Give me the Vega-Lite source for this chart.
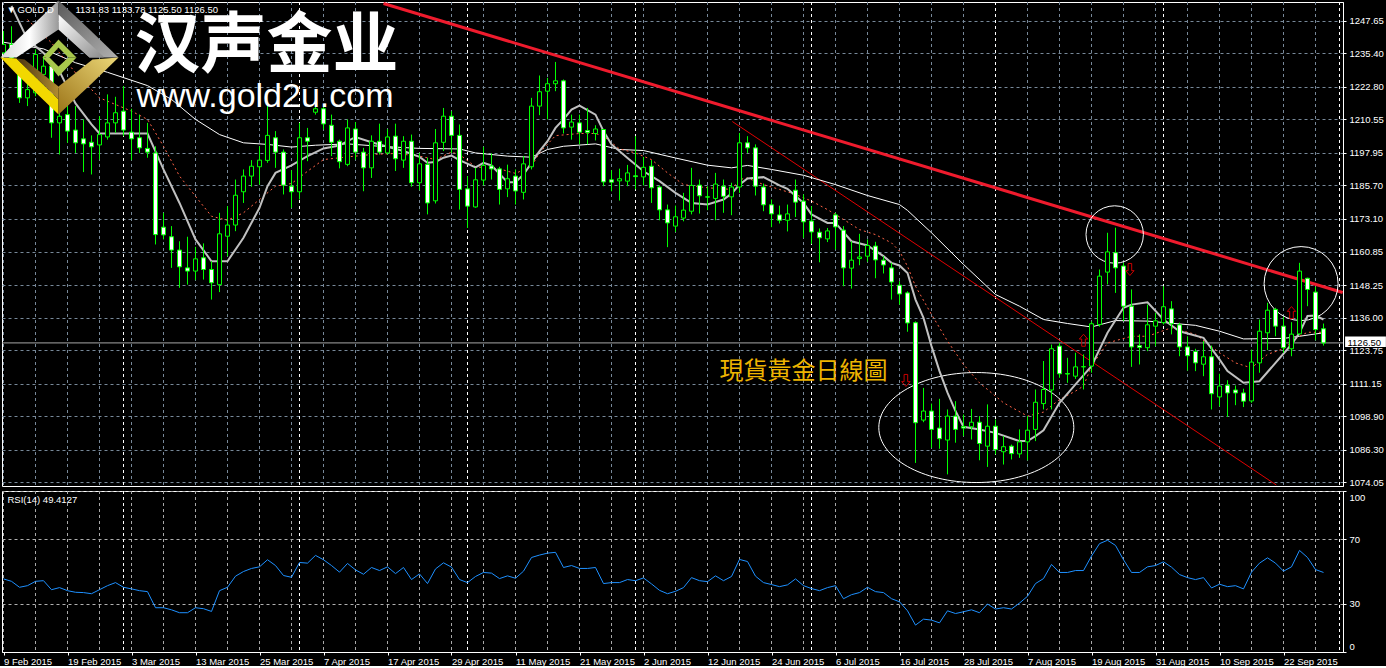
{"$schema":"https://vega.github.io/schema/vega-lite/v6.json","background":"#000000","padding":{"left":0,"top":0,"right":0,"bottom":0},"config":{"scale":{"continuousPadding":0},"view":{"stroke":"#ffffff","strokeWidth":1},"font":"Liberation Sans","axis":{"labelFont":"Liberation Sans","labelFontSize":9.5,"labelColor":"#ffffff","title":null}},"spacing":2,
"datasets":{"bars":[
{"bar":0,"o":1235.5,"h":1243.7,"l":1234.9,"c":1238.7,"rsi":45.4},
{"bar":1,"o":1238.7,"h":1245.5,"l":1231.8,"c":1233.6,"rsi":43.9},
{"bar":2,"o":1227.4,"h":1230.5,"l":1216.7,"c":1218.6,"rsi":40.2},
{"bar":3,"o":1218.6,"h":1225.5,"l":1215.5,"c":1221.7,"rsi":41.2},
{"bar":4,"o":1220.5,"h":1236.8,"l":1219.2,"c":1234.9,"rsi":43.9},
{"bar":5,"o":1227.4,"h":1234.3,"l":1223.0,"c":1230.5,"rsi":44.3},
{"bar":6,"o":1230.5,"h":1231.8,"l":1203.6,"c":1209.2,"rsi":38.7},
{"bar":7,"o":1209.2,"h":1215.5,"l":1197.3,"c":1211.7,"rsi":40.0},
{"bar":8,"o":1212.3,"h":1215.5,"l":1201.7,"c":1206.1,"rsi":38.1},
{"bar":9,"o":1206.5,"h":1215.5,"l":1197.9,"c":1201.7,"rsi":37.1},
{"bar":10,"o":1203.2,"h":1210.5,"l":1190.7,"c":1201.3,"rsi":36.9},
{"bar":11,"o":1201.9,"h":1204.5,"l":1189.8,"c":1200.2,"rsi":36.2},
{"bar":12,"o":1200.9,"h":1211.7,"l":1195.4,"c":1204.8,"rsi":38.7},
{"bar":13,"o":1203.9,"h":1219.9,"l":1202.9,"c":1209.2,"rsi":41.2},
{"bar":14,"o":1209.2,"h":1219.0,"l":1205.5,"c":1213.0,"rsi":43.1},
{"bar":15,"o":1213.6,"h":1223.0,"l":1204.2,"c":1206.5,"rsi":40.2},
{"bar":16,"o":1205.7,"h":1214.5,"l":1195.2,"c":1203.2,"rsi":39.2},
{"bar":17,"o":1203.6,"h":1212.3,"l":1197.9,"c":1199.8,"rsi":38.1},
{"bar":18,"o":1199.6,"h":1209.2,"l":1196.1,"c":1198.2,"rsi":37.5},
{"bar":19,"o":1197.9,"h":1200.4,"l":1163.5,"c":1167.2,"rsi":27.5},
{"bar":20,"o":1170.0,"h":1175.4,"l":1165.4,"c":1167.1,"rsi":27.5},
{"bar":21,"o":1166.4,"h":1170.4,"l":1154.7,"c":1161.4,"rsi":26.2},
{"bar":22,"o":1161.4,"h":1164.7,"l":1147.2,"c":1155.1,"rsi":24.4},
{"bar":23,"o":1154.7,"h":1166.4,"l":1148.4,"c":1153.5,"rsi":24.4},
{"bar":24,"o":1153.5,"h":1162.6,"l":1150.1,"c":1158.1,"rsi":27.5},
{"bar":25,"o":1158.5,"h":1163.9,"l":1150.3,"c":1154.1,"rsi":26.9},
{"bar":26,"o":1154.1,"h":1157.2,"l":1142.8,"c":1149.1,"rsi":25.2},
{"bar":27,"o":1148.4,"h":1175.4,"l":1145.6,"c":1167.5,"rsi":38.1},
{"bar":28,"o":1166.6,"h":1177.9,"l":1159.1,"c":1170.8,"rsi":40.2},
{"bar":29,"o":1170.8,"h":1187.9,"l":1168.5,"c":1182.0,"rsi":47.1},
{"bar":30,"o":1183.3,"h":1191.7,"l":1179.1,"c":1189.2,"rsi":50.0},
{"bar":31,"o":1189.2,"h":1195.2,"l":1185.2,"c":1192.9,"rsi":51.9},
{"bar":32,"o":1192.7,"h":1200.4,"l":1186.0,"c":1195.2,"rsi":52.9},
{"bar":33,"o":1195.1,"h":1216.7,"l":1194.2,"c":1204.5,"rsi":57.3},
{"bar":34,"o":1203.6,"h":1206.1,"l":1192.3,"c":1198.2,"rsi":53.7},
{"bar":35,"o":1198.2,"h":1199.2,"l":1182.3,"c":1185.8,"rsi":47.5},
{"bar":36,"o":1185.4,"h":1191.4,"l":1177.3,"c":1183.3,"rsi":46.4},
{"bar":37,"o":1183.3,"h":1209.2,"l":1180.4,"c":1203.6,"rsi":55.6},
{"bar":38,"o":1203.6,"h":1207.3,"l":1194.8,"c":1202.3,"rsi":55.2},
{"bar":39,"o":1213.2,"h":1216.7,"l":1212.3,"c":1214.5,"rsi":60.0},
{"bar":40,"o":1214.5,"h":1215.5,"l":1206.7,"c":1208.8,"rsi":57.3},
{"bar":41,"o":1208.3,"h":1212.3,"l":1196.7,"c":1201.9,"rsi":53.7},
{"bar":42,"o":1202.3,"h":1202.9,"l":1192.1,"c":1194.6,"rsi":49.6},
{"bar":43,"o":1193.6,"h":1210.5,"l":1192.9,"c":1207.3,"rsi":55.0},
{"bar":44,"o":1206.9,"h":1209.5,"l":1195.4,"c":1198.2,"rsi":51.0},
{"bar":45,"o":1198.2,"h":1199.8,"l":1183.5,"c":1192.3,"rsi":48.3},
{"bar":46,"o":1192.3,"h":1204.5,"l":1188.5,"c":1202.3,"rsi":52.5},
{"bar":47,"o":1202.3,"h":1208.9,"l":1197.3,"c":1198.2,"rsi":50.6},
{"bar":48,"o":1197.9,"h":1206.9,"l":1197.3,"c":1203.9,"rsi":52.9},
{"bar":49,"o":1204.2,"h":1208.9,"l":1191.1,"c":1195.7,"rsi":48.7},
{"bar":50,"o":1195.2,"h":1204.2,"l":1192.3,"c":1202.3,"rsi":52.5},
{"bar":51,"o":1202.3,"h":1204.8,"l":1185.2,"c":1186.7,"rsi":45.0},
{"bar":52,"o":1186.7,"h":1197.9,"l":1183.9,"c":1193.8,"rsi":48.5},
{"bar":53,"o":1193.6,"h":1196.1,"l":1174.8,"c":1179.1,"rsi":42.5},
{"bar":54,"o":1179.9,"h":1206.9,"l":1178.9,"c":1201.7,"rsi":51.6},
{"bar":55,"o":1201.9,"h":1214.8,"l":1198.6,"c":1211.7,"rsi":55.4},
{"bar":56,"o":1211.7,"h":1213.6,"l":1197.9,"c":1204.5,"rsi":52.7},
{"bar":57,"o":1204.5,"h":1208.6,"l":1176.6,"c":1184.2,"rsi":45.0},
{"bar":58,"o":1184.4,"h":1189.2,"l":1169.7,"c":1177.9,"rsi":43.1},
{"bar":59,"o":1177.6,"h":1192.3,"l":1177.3,"c":1187.8,"rsi":46.9},
{"bar":60,"o":1187.7,"h":1200.2,"l":1185.7,"c":1193.2,"rsi":49.4},
{"bar":61,"o":1193.0,"h":1197.7,"l":1187.9,"c":1191.9,"rsi":49.0},
{"bar":62,"o":1191.9,"h":1192.7,"l":1178.5,"c":1184.2,"rsi":45.6},
{"bar":63,"o":1184.4,"h":1193.5,"l":1181.3,"c":1188.2,"rsi":47.3},
{"bar":64,"o":1189.2,"h":1191.7,"l":1178.5,"c":1183.6,"rsi":45.8},
{"bar":65,"o":1183.1,"h":1196.7,"l":1180.4,"c":1193.8,"rsi":50.2},
{"bar":66,"o":1192.7,"h":1218.6,"l":1191.7,"c":1215.5,"rsi":58.7},
{"bar":67,"o":1215.5,"h":1227.0,"l":1212.1,"c":1220.9,"rsi":60.2},
{"bar":68,"o":1221.1,"h":1226.1,"l":1210.5,"c":1223.9,"rsi":61.4},
{"bar":69,"o":1223.9,"h":1232.1,"l":1221.1,"c":1225.0,"rsi":61.9},
{"bar":70,"o":1225.0,"h":1225.5,"l":1205.2,"c":1207.3,"rsi":52.5},
{"bar":71,"o":1207.6,"h":1212.3,"l":1202.9,"c":1209.5,"rsi":53.7},
{"bar":72,"o":1209.2,"h":1212.3,"l":1201.1,"c":1205.7,"rsi":51.9},
{"bar":73,"o":1206.3,"h":1214.8,"l":1201.1,"c":1205.6,"rsi":51.9},
{"bar":74,"o":1205.2,"h":1208.3,"l":1202.6,"c":1206.9,"rsi":52.5},
{"bar":75,"o":1206.7,"h":1206.9,"l":1185.4,"c":1187.0,"rsi":42.5},
{"bar":76,"o":1187.8,"h":1191.4,"l":1183.5,"c":1186.9,"rsi":43.1},
{"bar":77,"o":1187.4,"h":1192.0,"l":1180.0,"c":1188.2,"rsi":43.1},
{"bar":78,"o":1187.3,"h":1193.4,"l":1185.4,"c":1190.4,"rsi":45.0},
{"bar":79,"o":1189.3,"h":1204.2,"l":1184.2,"c":1189.0,"rsi":44.3},
{"bar":80,"o":1188.9,"h":1196.4,"l":1185.7,"c":1192.5,"rsi":46.0},
{"bar":81,"o":1192.9,"h":1195.2,"l":1179.1,"c":1184.8,"rsi":42.3},
{"bar":82,"o":1185.1,"h":1185.7,"l":1172.6,"c":1176.5,"rsi":38.3},
{"bar":83,"o":1176.5,"h":1178.5,"l":1162.5,"c":1171.6,"rsi":36.2},
{"bar":84,"o":1170.4,"h":1178.1,"l":1168.2,"c":1173.9,"rsi":37.7},
{"bar":85,"o":1173.4,"h":1182.9,"l":1172.2,"c":1176.4,"rsi":40.0},
{"bar":86,"o":1176.0,"h":1192.3,"l":1174.8,"c":1185.7,"rsi":46.2},
{"bar":87,"o":1185.8,"h":1187.9,"l":1175.1,"c":1181.8,"rsi":44.3},
{"bar":88,"o":1181.4,"h":1185.4,"l":1176.4,"c":1181.3,"rsi":43.7},
{"bar":89,"o":1180.8,"h":1190.4,"l":1172.6,"c":1186.2,"rsi":47.3},
{"bar":90,"o":1185.4,"h":1187.9,"l":1175.4,"c":1181.6,"rsi":44.3},
{"bar":91,"o":1181.4,"h":1186.7,"l":1174.5,"c":1185.1,"rsi":46.9},
{"bar":92,"o":1185.1,"h":1205.4,"l":1182.9,"c":1201.7,"rsi":57.5},
{"bar":93,"o":1201.7,"h":1204.2,"l":1197.9,"c":1199.8,"rsi":56.2},
{"bar":94,"o":1199.8,"h":1201.1,"l":1181.9,"c":1185.4,"rsi":47.1},
{"bar":95,"o":1185.1,"h":1186.4,"l":1176.0,"c":1178.4,"rsi":43.1},
{"bar":96,"o":1178.4,"h":1180.4,"l":1170.0,"c":1175.0,"rsi":41.9},
{"bar":97,"o":1174.6,"h":1178.1,"l":1171.4,"c":1172.6,"rsi":40.6},
{"bar":98,"o":1172.6,"h":1178.5,"l":1168.4,"c":1175.0,"rsi":41.7},
{"bar":99,"o":1183.9,"h":1187.9,"l":1173.8,"c":1179.4,"rsi":45.4},
{"bar":100,"o":1179.8,"h":1182.3,"l":1166.0,"c":1172.0,"rsi":41.2},
{"bar":101,"o":1172.3,"h":1177.9,"l":1163.7,"c":1168.2,"rsi":39.4},
{"bar":102,"o":1168.1,"h":1169.5,"l":1156.8,"c":1166.0,"rsi":38.1},
{"bar":103,"o":1165.6,"h":1169.7,"l":1164.4,"c":1168.6,"rsi":40.0},
{"bar":104,"o":1174.6,"h":1175.4,"l":1161.6,"c":1170.1,"rsi":41.2},
{"bar":105,"o":1168.9,"h":1170.4,"l":1147.8,"c":1154.7,"rsi":33.1},
{"bar":106,"o":1154.6,"h":1164.7,"l":1146.9,"c":1157.6,"rsi":35.6},
{"bar":107,"o":1158.2,"h":1167.5,"l":1155.7,"c":1158.8,"rsi":36.9},
{"bar":108,"o":1159.1,"h":1165.4,"l":1157.0,"c":1163.1,"rsi":40.2},
{"bar":109,"o":1162.9,"h":1164.5,"l":1150.8,"c":1157.7,"rsi":37.5},
{"bar":110,"o":1157.6,"h":1159.1,"l":1152.6,"c":1155.8,"rsi":36.9},
{"bar":111,"o":1154.7,"h":1156.6,"l":1142.8,"c":1149.4,"rsi":33.1},
{"bar":112,"o":1148.2,"h":1149.7,"l":1140.9,"c":1144.9,"rsi":31.2},
{"bar":113,"o":1145.3,"h":1145.9,"l":1130.7,"c":1134.0,"rsi":25.6},
{"bar":114,"o":1134.1,"h":1134.6,"l":1081.4,"c":1096.5,"rsi":16.7},
{"bar":115,"o":1097.5,"h":1109.6,"l":1096.7,"c":1100.9,"rsi":20.4},
{"bar":116,"o":1100.9,"h":1103.7,"l":1087.1,"c":1094.0,"rsi":19.8},
{"bar":117,"o":1094.5,"h":1105.5,"l":1086.7,"c":1090.5,"rsi":18.1},
{"bar":118,"o":1090.0,"h":1101.5,"l":1077.1,"c":1099.0,"rsi":25.6},
{"bar":119,"o":1099.0,"h":1104.6,"l":1089.0,"c":1094.0,"rsi":23.9},
{"bar":120,"o":1095.1,"h":1099.6,"l":1091.5,"c":1094.5,"rsi":25.0},
{"bar":121,"o":1095.0,"h":1101.7,"l":1090.2,"c":1096.7,"rsi":26.2},
{"bar":122,"o":1096.7,"h":1099.0,"l":1082.4,"c":1088.7,"rsi":24.4},
{"bar":123,"o":1087.7,"h":1103.4,"l":1079.9,"c":1095.2,"rsi":29.8},
{"bar":124,"o":1095.2,"h":1097.7,"l":1084.6,"c":1086.4,"rsi":26.7},
{"bar":125,"o":1085.6,"h":1091.5,"l":1080.8,"c":1087.5,"rsi":27.5},
{"bar":126,"o":1087.7,"h":1088.3,"l":1082.7,"c":1084.9,"rsi":26.7},
{"bar":127,"o":1084.8,"h":1094.0,"l":1083.3,"c":1089.3,"rsi":30.4},
{"bar":128,"o":1089.3,"h":1099.0,"l":1082.4,"c":1093.7,"rsi":34.6},
{"bar":129,"o":1094.0,"h":1109.0,"l":1089.6,"c":1104.2,"rsi":42.5},
{"bar":130,"o":1103.7,"h":1119.7,"l":1101.5,"c":1109.0,"rsi":45.6},
{"bar":131,"o":1108.8,"h":1125.9,"l":1101.5,"c":1124.3,"rsi":54.4},
{"bar":132,"o":1125.3,"h":1126.5,"l":1113.4,"c":1114.9,"rsi":49.4},
{"bar":133,"o":1115.0,"h":1120.9,"l":1111.5,"c":1114.8,"rsi":49.4},
{"bar":134,"o":1114.0,"h":1122.8,"l":1113.0,"c":1117.5,"rsi":50.6},
{"bar":135,"o":1117.5,"h":1122.2,"l":1109.0,"c":1117.6,"rsi":50.6},
{"bar":136,"o":1117.8,"h":1134.6,"l":1115.3,"c":1133.7,"rsi":59.6},
{"bar":137,"o":1133.4,"h":1154.1,"l":1132.6,"c":1151.6,"rsi":67.3},
{"bar":138,"o":1153.1,"h":1167.9,"l":1148.5,"c":1160.7,"rsi":69.4},
{"bar":139,"o":1160.4,"h":1169.8,"l":1145.3,"c":1154.7,"rsi":66.2},
{"bar":140,"o":1155.4,"h":1156.6,"l":1134.7,"c":1140.3,"rsi":57.3},
{"bar":141,"o":1140.3,"h":1146.6,"l":1117.5,"c":1125.0,"rsi":49.4},
{"bar":142,"o":1125.5,"h":1129.7,"l":1118.4,"c":1124.8,"rsi":49.4},
{"bar":143,"o":1124.7,"h":1140.9,"l":1123.4,"c":1133.3,"rsi":52.9},
{"bar":144,"o":1132.8,"h":1137.8,"l":1125.3,"c":1134.8,"rsi":53.7},
{"bar":145,"o":1134.1,"h":1147.8,"l":1133.4,"c":1140.1,"rsi":56.0},
{"bar":146,"o":1139.3,"h":1142.2,"l":1129.7,"c":1133.7,"rsi":52.7},
{"bar":147,"o":1133.3,"h":1134.1,"l":1121.5,"c":1125.0,"rsi":48.1},
{"bar":148,"o":1125.0,"h":1129.0,"l":1116.1,"c":1121.7,"rsi":46.2},
{"bar":149,"o":1123.3,"h":1124.3,"l":1115.9,"c":1119.0,"rsi":45.0},
{"bar":150,"o":1118.5,"h":1127.2,"l":1114.0,"c":1121.3,"rsi":46.2},
{"bar":151,"o":1121.3,"h":1125.5,"l":1101.5,"c":1107.4,"rsi":39.8},
{"bar":152,"o":1106.2,"h":1114.9,"l":1102.7,"c":1110.3,"rsi":42.1},
{"bar":153,"o":1110.6,"h":1112.5,"l":1098.7,"c":1107.7,"rsi":40.6},
{"bar":154,"o":1108.8,"h":1110.5,"l":1103.1,"c":1107.7,"rsi":41.2},
{"bar":155,"o":1107.7,"h":1109.3,"l":1102.4,"c":1104.6,"rsi":39.2},
{"bar":156,"o":1104.7,"h":1124.0,"l":1104.0,"c":1119.3,"rsi":49.6},
{"bar":157,"o":1119.0,"h":1135.3,"l":1115.3,"c":1130.9,"rsi":55.2},
{"bar":158,"o":1130.3,"h":1141.6,"l":1123.8,"c":1138.8,"rsi":58.5},
{"bar":159,"o":1139.1,"h":1139.7,"l":1129.0,"c":1132.8,"rsi":55.2},
{"bar":160,"o":1132.8,"h":1136.3,"l":1122.8,"c":1124.7,"rsi":50.2},
{"bar":161,"o":1124.3,"h":1134.3,"l":1121.5,"c":1129.8,"rsi":52.9},
{"bar":162,"o":1129.9,"h":1156.6,"l":1129.4,"c":1153.5,"rsi":63.1},
{"bar":163,"o":1150.8,"h":1151.0,"l":1140.3,"c":1146.6,"rsi":58.7},
{"bar":164,"o":1145.6,"h":1147.6,"l":1127.5,"c":1131.5,"rsi":51.2},
{"bar":165,"o":1131.83,"h":1133.78,"l":1125.5,"c":1126.5,"rsi":49.41}],
"fast":[{"bar":1,"v":1253.1},{"bar":3,"v":1240.5},{"bar":5,"v":1235.5},{"bar":7,"v":1228.6},{"bar":9,"v":1216.5},{"bar":11,"v":1208.6},{"bar":12,"v":1205.2},{"bar":18,"v":1205.2},{"bar":20,"v":1191.7},{"bar":22,"v":1179.1},{"bar":24,"v":1165.4},{"bar":26,"v":1157.2},{"bar":28,"v":1157.2},{"bar":30,"v":1166.0},{"bar":32,"v":1177.3},{"bar":33,"v":1185.4},{"bar":34,"v":1190.4},{"bar":36,"v":1193.2},{"bar":38,"v":1196.7},{"bar":40,"v":1199.6},{"bar":42,"v":1200.7},{"bar":44,"v":1203.9},{"bar":46,"v":1201.9},{"bar":48,"v":1200.2},{"bar":50,"v":1198.6},{"bar":52,"v":1196.4},{"bar":53,"v":1194.2},{"bar":54,"v":1194.5},{"bar":55,"v":1196.1},{"bar":56,"v":1196.9},{"bar":57,"v":1195.2},{"bar":59,"v":1192.5},{"bar":60,"v":1194.2},{"bar":61,"v":1193.2},{"bar":63,"v":1186.9},{"bar":64,"v":1186.9},{"bar":65,"v":1189.8},{"bar":67,"v":1198.6},{"bar":68,"v":1202.3},{"bar":69,"v":1207.3},{"bar":70,"v":1210.5},{"bar":71,"v":1214.2},{"bar":72,"v":1215.7},{"bar":74,"v":1212.3},{"bar":75,"v":1206.1},{"bar":76,"v":1201.1},{"bar":78,"v":1196.0},{"bar":80,"v":1191.0},{"bar":82,"v":1187.3},{"bar":84,"v":1182.9},{"bar":86,"v":1179.1},{"bar":88,"v":1178.5},{"bar":90,"v":1180.4},{"bar":91,"v":1182.6},{"bar":92,"v":1186.0},{"bar":93,"v":1188.3},{"bar":95,"v":1188.8},{"bar":97,"v":1185.7},{"bar":98,"v":1184.4},{"bar":100,"v":1179.1},{"bar":101,"v":1174.8},{"bar":103,"v":1171.6},{"bar":104,"v":1171.6},{"bar":106,"v":1164.7},{"bar":108,"v":1163.1},{"bar":110,"v":1159.1},{"bar":111,"v":1156.6},{"bar":112,"v":1155.6},{"bar":113,"v":1152.8},{"bar":114,"v":1142.8},{"bar":115,"v":1135.9},{"bar":116,"v":1125.3},{"bar":117,"v":1115.9},{"bar":118,"v":1107.8},{"bar":119,"v":1100.9},{"bar":120,"v":1095.0},{"bar":122,"v":1094.0},{"bar":124,"v":1092.7},{"bar":127,"v":1089.6},{"bar":128,"v":1089.6},{"bar":129,"v":1091.5},{"bar":130,"v":1093.7},{"bar":132,"v":1104.0},{"bar":134,"v":1110.9},{"bar":136,"v":1117.8},{"bar":138,"v":1130.3},{"bar":140,"v":1139.7},{"bar":141,"v":1140.9},{"bar":143,"v":1141.8},{"bar":145,"v":1135.3},{"bar":147,"v":1130.9},{"bar":150,"v":1128.4},{"bar":152,"v":1120.3},{"bar":153,"v":1115.9},{"bar":155,"v":1111.5},{"bar":157,"v":1112.1},{"bar":159,"v":1119.0},{"bar":161,"v":1125.9},{"bar":162,"v":1130.3},{"bar":163,"v":1136.6},{"bar":164,"v":1136.8},{"bar":165,"v":1135.3}],
"mid":[{"bar":3,"v":1248.0},{"bar":6,"v":1239.3},{"bar":9,"v":1228.0},{"bar":12,"v":1218.6},{"bar":16,"v":1213.6},{"bar":18,"v":1210.5},{"bar":20,"v":1200.4},{"bar":22,"v":1189.2},{"bar":24,"v":1181.6},{"bar":26,"v":1174.1},{"bar":28,"v":1172.6},{"bar":30,"v":1175.4},{"bar":32,"v":1180.4},{"bar":34,"v":1185.4},{"bar":36,"v":1186.4},{"bar":38,"v":1191.0},{"bar":40,"v":1195.4},{"bar":43,"v":1196.4},{"bar":46,"v":1197.3},{"bar":49,"v":1197.7},{"bar":52,"v":1196.7},{"bar":54,"v":1195.4},{"bar":56,"v":1198.2},{"bar":57,"v":1197.3},{"bar":59,"v":1192.7},{"bar":62,"v":1191.9},{"bar":64,"v":1190.2},{"bar":66,"v":1192.9},{"bar":67,"v":1197.9},{"bar":69,"v":1204.4},{"bar":72,"v":1205.2},{"bar":74,"v":1205.2},{"bar":75,"v":1204.2},{"bar":77,"v":1199.4},{"bar":79,"v":1197.9},{"bar":81,"v":1195.4},{"bar":83,"v":1190.4},{"bar":85,"v":1186.0},{"bar":88,"v":1184.8},{"bar":91,"v":1184.2},{"bar":92,"v":1187.9},{"bar":93,"v":1188.5},{"bar":95,"v":1186.0},{"bar":97,"v":1184.2},{"bar":99,"v":1182.3},{"bar":101,"v":1179.8},{"bar":103,"v":1176.6},{"bar":104,"v":1174.8},{"bar":107,"v":1169.1},{"bar":109,"v":1167.2},{"bar":111,"v":1164.1},{"bar":112,"v":1161.0},{"bar":113,"v":1155.3},{"bar":114,"v":1147.8},{"bar":116,"v":1137.2},{"bar":118,"v":1127.2},{"bar":120,"v":1118.4},{"bar":122,"v":1111.5},{"bar":125,"v":1104.0},{"bar":128,"v":1099.0},{"bar":130,"v":1100.5},{"bar":132,"v":1105.2},{"bar":134,"v":1108.4},{"bar":135,"v":1110.3},{"bar":136,"v":1117.8},{"bar":138,"v":1126.5},{"bar":141,"v":1129.0},{"bar":143,"v":1129.0},{"bar":146,"v":1132.2},{"bar":149,"v":1129.7},{"bar":152,"v":1122.8},{"bar":154,"v":1119.0},{"bar":156,"v":1117.1},{"bar":158,"v":1122.2},{"bar":160,"v":1124.3},{"bar":162,"v":1129.0},{"bar":163,"v":1130.5},{"bar":165,"v":1130.5}],
"slow":[{"bar":0,"v":1239.5},{"bar":5,"v":1237.0},{"bar":9,"v":1231.8},{"bar":13,"v":1228.2},{"bar":18,"v":1223.2},{"bar":21,"v":1218.0},{"bar":24,"v":1210.5},{"bar":27,"v":1204.8},{"bar":30,"v":1201.7},{"bar":33,"v":1201.1},{"bar":36,"v":1200.1},{"bar":39,"v":1200.8},{"bar":43,"v":1201.3},{"bar":47,"v":1200.4},{"bar":52,"v":1199.6},{"bar":57,"v":1199.4},{"bar":59,"v":1197.9},{"bar":63,"v":1196.7},{"bar":66,"v":1196.3},{"bar":68,"v":1199.2},{"bar":70,"v":1200.4},{"bar":74,"v":1201.3},{"bar":77,"v":1199.2},{"bar":80,"v":1198.8},{"bar":84,"v":1196.0},{"bar":88,"v":1193.3},{"bar":91,"v":1192.3},{"bar":93,"v":1193.2},{"bar":96,"v":1191.7},{"bar":100,"v":1189.5},{"bar":104,"v":1186.0},{"bar":108,"v":1181.9},{"bar":112,"v":1178.5},{"bar":113,"v":1176.3},{"bar":116,"v":1167.9},{"bar":120,"v":1156.0},{"bar":124,"v":1144.7},{"bar":127,"v":1140.3},{"bar":130,"v":1135.3},{"bar":133,"v":1133.8},{"bar":136,"v":1132.5},{"bar":139,"v":1134.9},{"bar":143,"v":1134.7},{"bar":149,"v":1133.1},{"bar":152,"v":1130.9},{"bar":155,"v":1128.0},{"bar":160,"v":1128.2},{"bar":162,"v":1129.0},{"bar":165,"v":1130.3}],
"vgrid":[{"bar":0},{"bar":4},{"bar":8},{"bar":12},{"bar":16},{"bar":20},{"bar":24},{"bar":28},{"bar":32},{"bar":36},{"bar":40},{"bar":44},{"bar":48},{"bar":52},{"bar":56},{"bar":60},{"bar":64},{"bar":68},{"bar":72},{"bar":76},{"bar":80},{"bar":84},{"bar":88},{"bar":92},{"bar":96},{"bar":100},{"bar":104},{"bar":108},{"bar":112},{"bar":116},{"bar":120},{"bar":124},{"bar":128},{"bar":132},{"bar":136},{"bar":140},{"bar":144},{"bar":148},{"bar":152},{"bar":156},{"bar":160},{"bar":164}],
"seps":[{"bar":15},{"bar":37},{"bar":58},{"bar":79},{"bar":101},{"bar":124},{"bar":145},{"bar":167}]},
"vconcat":[
{"width":1341,"height":484,"resolve":{"scale":{"x":"independent","y":"independent"},"axis":{"x":"independent","y":"independent"}},"layer":[
{"resolve":{"axis":{"x":"independent","y":"independent"}},"layer":[
{"data":{"name":"vgrid"},"mark":{"type":"rule","color":"#778899","strokeWidth":1,"strokeDash":[3,3]},"encoding":{"x":{"field":"bar","type":"quantitative","scale":{"domain":[-0.1875,167.4375],"nice":false},"axis":null}}},
{"data":{"name":"seps"},"mark":{"type":"rule","color":"#ffffff","strokeWidth":1,"strokeDash":[3,3]},"encoding":{"x":{"field":"bar","type":"quantitative","scale":{"domain":[-0.1875,167.4375],"nice":false},"axis":null}}},
{"data":{"values":[{"price":1126.5}]},"mark":{"type":"rule","color":"#a8a8a8","strokeWidth":1},"encoding":{"y":{"field":"price","type":"quantitative","scale":{"domain":[1072.73,1254.62],"nice":false,"zero":false},"axis":{"orient":"right","values":[1074.05,1086.3,1098.9,1111.15,1123.75,1136,1148.25,1160.85,1173.1,1185.7,1197.95,1210.55,1222.8,1235.4,1247.65],"format":".2f","grid":true,"gridColor":"#778899","gridDash":[3,3],"gridWidth":1,"domainColor":"#ffffff","tickColor":"#ffffff","tickSize":3,"labelPadding":3,"labelOverlap":false,"labelBound":false,"labelFlush":false}}}},
{"data":{"values":[{"bar":47.5,"price":1254.06},{"bar":167.4,"price":1145.45}]},"mark":{"type":"line","color":"#ef1b2d","strokeWidth":3,"clip":true},"encoding":{"x":{"field":"bar","type":"quantitative","scale":{"domain":[-0.1875,167.4375],"nice":false},"axis":null},"y":{"field":"price","type":"quantitative","scale":{"domain":[1072.73,1254.62],"nice":false,"zero":false},"axis":null}}},
{"data":{"values":[{"bar":91.1,"price":1209.7},{"bar":159.1,"price":1073.1}]},"mark":{"type":"line","color":"#e00000","strokeWidth":1,"clip":true},"encoding":{"x":{"field":"bar","type":"quantitative","scale":{"domain":[-0.1875,167.4375],"nice":false},"axis":null},"y":{"field":"price","type":"quantitative","scale":{"domain":[1072.73,1254.62],"nice":false,"zero":false},"axis":null}}},
{"data":{"values":[{"bar":121.6,"price":1094.7}]},"mark":{"type":"point","shape":"M-1,0 A1,0.564 0 1 1 1,0 A1,0.564 0 1 1 -1,0 Z","size":38025,"filled":false,"stroke":"#ffffff","strokeWidth":1,"opacity":1},"encoding":{"x":{"field":"bar","type":"quantitative","scale":{"domain":[-0.1875,167.4375],"nice":false},"axis":null},"y":{"field":"price","type":"quantitative","scale":{"domain":[1072.73,1254.62],"nice":false,"zero":false},"axis":null}}},
{"data":{"values":[{"bar":138.9,"price":1167.25}]},"mark":{"type":"point","shape":"circle","size":3295,"filled":false,"stroke":"#ffffff","strokeWidth":1,"opacity":1},"encoding":{"x":{"field":"bar","type":"quantitative","scale":{"domain":[-0.1875,167.4375],"nice":false},"axis":null},"y":{"field":"price","type":"quantitative","scale":{"domain":[1072.73,1254.62],"nice":false,"zero":false},"axis":null}}},
{"data":{"values":[{"bar":162.2,"price":1148.8}]},"mark":{"type":"point","shape":"circle","size":5476,"filled":false,"stroke":"#ffffff","strokeWidth":1,"opacity":1},"encoding":{"x":{"field":"bar","type":"quantitative","scale":{"domain":[-0.1875,167.4375],"nice":false},"axis":null},"y":{"field":"price","type":"quantitative","scale":{"domain":[1072.73,1254.62],"nice":false,"zero":false},"axis":null}}},
{"data":{"name":"slow"},"mark":{"type":"line","color":"#ffffff","strokeWidth":1,"clip":true},"encoding":{"x":{"field":"bar","type":"quantitative","scale":{"domain":[-0.1875,167.4375],"nice":false},"axis":null},"y":{"field":"v","type":"quantitative","scale":{"domain":[1072.73,1254.62],"nice":false,"zero":false},"axis":null}}},
{"data":{"name":"mid"},"mark":{"type":"line","color":"#ff6347","strokeWidth":1,"strokeDash":[2,3],"clip":true},"encoding":{"x":{"field":"bar","type":"quantitative","scale":{"domain":[-0.1875,167.4375],"nice":false},"axis":null},"y":{"field":"v","type":"quantitative","scale":{"domain":[1072.73,1254.62],"nice":false,"zero":false},"axis":null}}},
{"data":{"name":"fast"},"mark":{"type":"line","color":"#c0c0c0","strokeWidth":2,"clip":true},"encoding":{"x":{"field":"bar","type":"quantitative","scale":{"domain":[-0.1875,167.4375],"nice":false},"axis":null},"y":{"field":"v","type":"quantitative","scale":{"domain":[1072.73,1254.62],"nice":false,"zero":false},"axis":null}}},
{"data":{"name":"bars"},"mark":{"type":"rule","color":"#00ff00","strokeWidth":1},"encoding":{"x":{"field":"bar","type":"quantitative","scale":{"domain":[-0.1875,167.4375],"nice":false},"axis":null},"y":{"field":"l","type":"quantitative","scale":{"domain":[1072.73,1254.62],"nice":false,"zero":false},"axis":null},"y2":{"field":"h"}}},
{"data":{"name":"bars"},"mark":{"type":"bar","size":4,"stroke":"#00ff00","strokeWidth":1,"clip":true},"encoding":{"x":{"field":"bar","type":"quantitative","scale":{"domain":[-0.1875,167.4375],"nice":false},"axis":null},"y":{"field":"o","type":"quantitative","scale":{"domain":[1072.73,1254.62],"nice":false,"zero":false},"axis":null},"y2":{"field":"c"},"fill":{"condition":{"test":"datum.c<datum.o","value":"#ffffff"},"value":"#000000"}}},
{"data":{"values":[{"bar":135,"price":1127.5},{"bar":161,"price":1137.9}]},"mark":{"type":"point","shape":"M0,-1 L0.7,-0.2 L0.3,-0.2 L0.3,1 L-0.3,1 L-0.3,-0.2 L-0.7,-0.2 Z","size":144,"filled":false,"stroke":"#c80000","strokeWidth":1,"opacity":1},"encoding":{"x":{"field":"bar","type":"quantitative","scale":{"domain":[-0.1875,167.4375],"nice":false},"axis":null},"y":{"field":"price","type":"quantitative","scale":{"domain":[1072.73,1254.62],"nice":false,"zero":false},"axis":null}}},
{"data":{"values":[{"bar":112.8,"price":1112.4},{"bar":140.8,"price":1154.1}]},"mark":{"type":"point","shape":"M0,1 L0.7,0.2 L0.3,0.2 L0.3,-1 L-0.3,-1 L-0.3,0.2 L-0.7,0.2 Z","size":144,"filled":false,"stroke":"#c80000","strokeWidth":1,"opacity":1},"encoding":{"x":{"field":"bar","type":"quantitative","scale":{"domain":[-0.1875,167.4375],"nice":false},"axis":null},"y":{"field":"price","type":"quantitative","scale":{"domain":[1072.73,1254.62],"nice":false,"zero":false},"axis":null}}},
{"data":{"values":[{"bar":167.7,"bar2":172.8,"top":1128.9,"bottom":1125.0}]},"mark":{"type":"rect","color":"#ffffff"},"encoding":{"x":{"field":"bar","type":"quantitative","scale":{"domain":[-0.1875,167.4375],"nice":false},"axis":null},"x2":{"field":"bar2"},"y":{"field":"bottom","type":"quantitative","scale":{"domain":[1072.73,1254.62],"nice":false,"zero":false},"axis":null},"y2":{"field":"top"}}},
{"data":{"values":[{"bar":168,"price":1126.5,"label":"1126.50"}]},"mark":{"type":"text","align":"left","baseline":"middle","font":"Liberation Sans","fontSize":9.5,"color":"#000000"},"encoding":{"x":{"field":"bar","type":"quantitative","scale":{"domain":[-0.1875,167.4375],"nice":false},"axis":null},"y":{"field":"price","type":"quantitative","scale":{"domain":[1072.73,1254.62],"nice":false,"zero":false},"axis":null},"text":{"field":"label"}}}
]},
{"layer":[
{"data":{"values":[{"lx":1,"ly":58,"ly2":58},{"lx":17,"ly":41,"ly2":58},{"lx":59,"ly":1,"ly2":30}]},"mark":{"type":"area","color":{"gradient":"linear","x1":0,"y1":0,"x2":1,"y2":0,"stops":[{"offset":0,"color":"#d8d8d8"},{"offset":0.5,"color":"#ffffff"},{"offset":1,"color":"#9a9a9a"}]}},"encoding":{"x":{"field":"lx","type":"quantitative","scale":{"domain":[2.5,1343.5],"nice":false},"axis":null},"y":{"field":"ly","type":"quantitative","scale":{"domain":[2.5,486.5],"reverse":true,"nice":false},"axis":null},"y2":{"field":"ly2"}}},
{"data":{"values":[{"lx":59,"ly":1,"ly2":30},{"lx":90,"ly":30,"ly2":58},{"lx":119,"ly":58,"ly2":58}]},"mark":{"type":"area","color":{"gradient":"linear","x1":0,"y1":0,"x2":1,"y2":1,"stops":[{"offset":0,"color":"#5a5a5a"},{"offset":1,"color":"#b0b0b0"}]}},"encoding":{"x":{"field":"lx","type":"quantitative","scale":{"domain":[2.5,1343.5],"nice":false},"axis":null},"y":{"field":"ly","type":"quantitative","scale":{"domain":[2.5,486.5],"reverse":true,"nice":false},"axis":null},"y2":{"field":"ly2"}}},
{"data":{"values":[{"lx":59,"ly":15,"ly2":30},{"lx":90,"ly":44,"ly2":58},{"lx":104,"ly":57,"ly2":58}]},"mark":{"type":"area","color":{"gradient":"linear","x1":0,"y1":0,"x2":1,"y2":1,"stops":[{"offset":0,"color":"#ffffff"},{"offset":1,"color":"#8c8c8c"}]}},"encoding":{"x":{"field":"lx","type":"quantitative","scale":{"domain":[2.5,1343.5],"nice":false},"axis":null},"y":{"field":"ly","type":"quantitative","scale":{"domain":[2.5,486.5],"reverse":true,"nice":false},"axis":null},"y2":{"field":"ly2"}}},
{"data":{"values":[{"lx":1,"ly":58,"ly2":58},{"lx":17,"ly":59,"ly2":74.4},{"lx":59,"ly":100,"ly2":115}]},"mark":{"type":"area","color":"#f2d800"},"encoding":{"x":{"field":"lx","type":"quantitative","scale":{"domain":[2.5,1343.5],"nice":false},"axis":null},"y":{"field":"ly","type":"quantitative","scale":{"domain":[2.5,486.5],"reverse":true,"nice":false},"axis":null},"y2":{"field":"ly2"}}},
{"data":{"values":[{"lx":17,"ly":59,"ly2":59},{"lx":25,"ly":60,"ly2":67},{"lx":59,"ly":87,"ly2":100}]},"mark":{"type":"area","color":{"gradient":"linear","x1":0,"y1":0,"x2":1,"y2":0,"stops":[{"offset":0,"color":"#4a3410"},{"offset":1,"color":"#b08c30"}]}},"encoding":{"x":{"field":"lx","type":"quantitative","scale":{"domain":[2.5,1343.5],"nice":false},"axis":null},"y":{"field":"ly","type":"quantitative","scale":{"domain":[2.5,486.5],"reverse":true,"nice":false},"axis":null},"y2":{"field":"ly2"}}},
{"data":{"values":[{"lx":59,"ly":87,"ly2":115},{"lx":93,"ly":60,"ly2":83.3},{"lx":119,"ly":58,"ly2":58}]},"mark":{"type":"area","color":{"gradient":"linear","x1":0,"y1":1,"x2":1,"y2":0,"stops":[{"offset":0,"color":"#9c7418"},{"offset":1,"color":"#ecd878"}]}},"encoding":{"x":{"field":"lx","type":"quantitative","scale":{"domain":[2.5,1343.5],"nice":false},"axis":null},"y":{"field":"ly","type":"quantitative","scale":{"domain":[2.5,486.5],"reverse":true,"nice":false},"axis":null},"y2":{"field":"ly2"}}},
{"data":{"values":[{"lx":43,"ly":58,"ly2":58},{"lx":50,"ly":50.1,"ly2":58},{"lx":59,"ly":40,"ly2":48},{"lx":69,"ly":50,"ly2":58},{"lx":77,"ly":58,"ly2":58}]},"mark":{"type":"area","color":"#a8c84c"},"encoding":{"x":{"field":"lx","type":"quantitative","scale":{"domain":[2.5,1343.5],"nice":false},"axis":null},"y":{"field":"ly","type":"quantitative","scale":{"domain":[2.5,486.5],"reverse":true,"nice":false},"axis":null},"y2":{"field":"ly2"}}},
{"data":{"values":[{"lx":43,"ly":58,"ly2":58},{"lx":50,"ly":65.5,"ly2":58},{"lx":59,"ly":77,"ly2":67},{"lx":69,"ly":66.5,"ly2":58},{"lx":77,"ly":58,"ly2":58}]},"mark":{"type":"area","color":"#a8c84c"},"encoding":{"x":{"field":"lx","type":"quantitative","scale":{"domain":[2.5,1343.5],"nice":false},"axis":null},"y":{"field":"ly","type":"quantitative","scale":{"domain":[2.5,486.5],"reverse":true,"nice":false},"axis":null},"y2":{"field":"ly2"}}},
{"data":{"values":[{"lx":135,"ly":47,"t":"汉声金业"}]},"mark":{"type":"text","align":"left","baseline":"middle","font":"Noto Sans CJK SC","fontWeight":"bold","fontSize":66,"color":"#ffffff"},"encoding":{"x":{"field":"lx","type":"quantitative","scale":{"domain":[2.5,1343.5],"nice":false},"axis":null},"y":{"field":"ly","type":"quantitative","scale":{"domain":[2.5,486.5],"reverse":true,"nice":false},"axis":null},"text":{"field":"t"}}},
{"data":{"values":[{"lx":137,"ly":97,"t":"www.gold2u.com"}]},"mark":{"type":"text","align":"left","baseline":"middle","font":"Liberation Sans","fontSize":34,"color":"#ffffff"},"encoding":{"x":{"field":"lx","type":"quantitative","scale":{"domain":[2.5,1343.5],"nice":false},"axis":null},"y":{"field":"ly","type":"quantitative","scale":{"domain":[2.5,486.5],"reverse":true,"nice":false},"axis":null},"text":{"field":"t"}}},
{"data":{"values":[{"lx":720,"ly":372,"t":"現貨黃金日線圖"}]},"mark":{"type":"text","align":"left","baseline":"middle","font":"Noto Sans CJK TC","fontSize":24,"color":"#eeb400"},"encoding":{"x":{"field":"lx","type":"quantitative","scale":{"domain":[2.5,1343.5],"nice":false},"axis":null},"y":{"field":"ly","type":"quantitative","scale":{"domain":[2.5,486.5],"reverse":true,"nice":false},"axis":null},"text":{"field":"t"}}},
{"data":{"values":[{"lx":7,"ly":10,"t":"▼"},{"lx":76,"ly":10,"t":"1131.83 1133.78 1125.50 1126.50"},{"lx":18,"ly":10,"t":"GOLD,D"}]},"mark":{"type":"text","align":"left","baseline":"middle","font":"Liberation Sans","fontSize":9.5,"color":"#ffffff"},"encoding":{"x":{"field":"lx","type":"quantitative","scale":{"domain":[2.5,1343.5],"nice":false},"axis":null},"y":{"field":"ly","type":"quantitative","scale":{"domain":[2.5,486.5],"reverse":true,"nice":false},"axis":null},"text":{"field":"t"}}}
]}
]},
{"width":1341,"height":161,"resolve":{"axis":{"x":"independent","y":"independent"}},"layer":[
{"data":{"name":"vgrid"},"mark":{"type":"rule","color":"#a8a8a8","strokeWidth":1,"strokeDash":[3,3]},"encoding":{"x":{"field":"bar","type":"quantitative","scale":{"domain":[-0.1875,167.4375],"nice":false},"axis":{"values":[0,8,16,24,32,40,48,56,64,72,80,88,96,104,112,120,128,136,144,152,160],"labelExpr":"['9 Feb 2015','19 Feb 2015','3 Mar 2015','13 Mar 2015','25 Mar 2015','7 Apr 2015','17 Apr 2015','29 Apr 2015','11 May 2015','21 May 2015','2 Jun 2015','12 Jun 2015','24 Jun 2015','6 Jul 2015','16 Jul 2015','28 Jul 2015','7 Aug 2015','19 Aug 2015','31 Aug 2015','10 Sep 2015','22 Sep 2015'][datum.value/8]","grid":false,"labelAlign":"left","labelBaseline":"top","domainColor":"#ffffff","tickColor":"#ffffff","tickSize":3,"labelPadding":1,"labelOverlap":false,"labelBound":false,"labelFlush":false}}}},
{"data":{"name":"seps"},"mark":{"type":"rule","color":"#ffffff","strokeWidth":1,"strokeDash":[3,3]},"encoding":{"x":{"field":"bar","type":"quantitative","scale":{"domain":[-0.1875,167.4375],"nice":false},"axis":null}}},
{"data":{"name":"bars"},"mark":{"type":"line","color":"#1e90ff","strokeWidth":1},"encoding":{"x":{"field":"bar","type":"quantitative","scale":{"domain":[-0.1875,167.4375],"nice":false},"axis":null},"y":{"field":"rsi","type":"quantitative","scale":{"domain":[0,100],"nice":false},"axis":{"orient":"right","values":[0,30,70,100],"grid":true,"gridColor":"#b0b0b0","gridDash":[3,3],"domainColor":"#ffffff","tickColor":"#ffffff","tickSize":3,"labelPadding":3,"labelFlush":true,"labelFlushOffset":-1,"labelOverlap":false}}}},
{"data":{"values":[{"bar":0.5,"rsi":94.7,"t":"RSI(14) 49.4127"}]},"mark":{"type":"text","align":"left","baseline":"middle","font":"Liberation Sans","fontSize":9.5,"color":"#ffffff"},"encoding":{"x":{"field":"bar","type":"quantitative","scale":{"domain":[-0.1875,167.4375],"nice":false},"axis":null},"y":{"field":"rsi","type":"quantitative","scale":{"domain":[0,100],"nice":false},"axis":null},"text":{"field":"t"}}}
]}
]}
